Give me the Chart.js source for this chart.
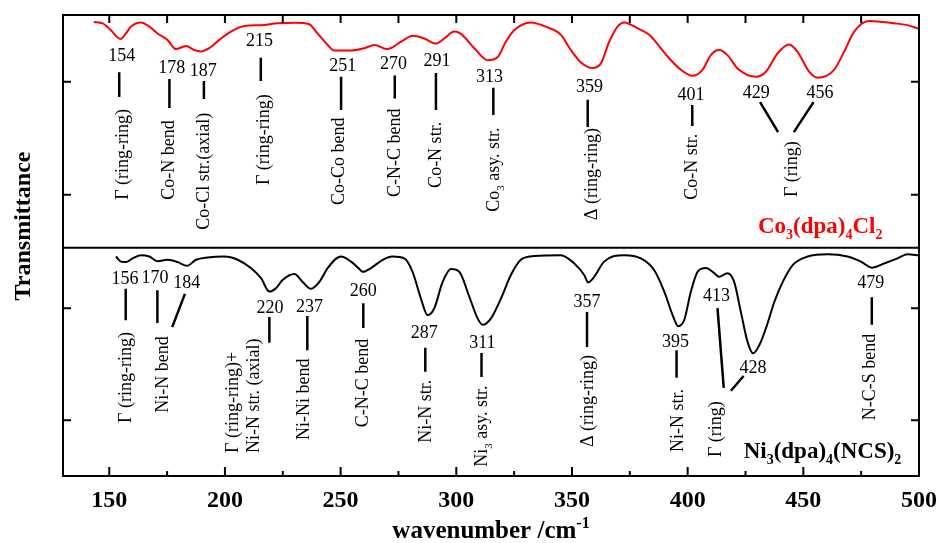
<!DOCTYPE html>
<html>
<head>
<meta charset="utf-8">
<script src="https://cdn.jsdelivr.net/npm/chart.js@4.4.1/dist/chart.umd.min.js"></script>
<style>
  html, body { margin: 0; padding: 0; background: #fff; }
  #wrap { width: 939px; height: 543px; }
</style>
</head>
<body>
<div id="wrap"><canvas id="irChart" width="939" height="543"></canvas></div>
<script>
// Far-IR spectra, transmittance in arbitrary units (panels stacked)
const coWavenumber = [143.3, 147.2, 150.7, 154.8, 157.2, 159.4, 163.7, 167.3, 170.9, 175.2, 178.8, 183.2, 186.7, 189.6, 193.2, 197.5, 202.6, 208.3, 215.6, 222.8, 230, 236.4, 240, 244.4, 247.2, 254.5, 260.2, 264.5, 270.3, 276.1, 281.1, 286.1, 291.2, 294.8, 299.1, 302, 307.8, 313.5, 317.9, 321.4, 325, 332.2, 339.5, 345.2, 349.5, 353.9, 358.9, 362.5, 366.1, 369.7, 372.6, 378.4, 383.4, 385.5, 391.3, 397.1, 402.1, 406.4, 410, 413.6, 417.2, 421.6, 429.5, 433.8, 438.9, 443.9, 447.5, 452.5, 456.1, 463.3, 467.6, 472, 478.4, 489.2, 495, 500];
const coTransmittance = [98.5, 98.2, 96.7, 94.8, 96.0, 97.5, 98.4, 97.5, 96.0, 94.6, 92.6, 93.3, 92.4, 92.1, 92.8, 94.6, 96.4, 97.6, 97.8, 98.2, 98.3, 98.0, 96.0, 93.5, 92.3, 92.3, 92.8, 93.5, 92.6, 94.2, 95.5, 94.9, 93.8, 94.9, 96.4, 95.9, 92.8, 90.2, 90.9, 94.2, 96.7, 98.4, 97.3, 95.7, 92.4, 89.7, 88.5, 89.5, 94.2, 97.5, 98.4, 97.1, 95.7, 94.6, 91.0, 88.1, 86.8, 88.1, 91.3, 92.4, 91.3, 88.4, 86.6, 87.7, 91.7, 93.6, 92.0, 87.7, 86.4, 88.1, 92.0, 96.4, 98.7, 98.2, 97.8, 97.0];

const niWavenumber = [152.9, 155.1, 157.2, 160.1, 163.7, 167.3, 170.9, 175.2, 179.6, 183.6, 187.5, 192.5, 199.7, 205.5, 211.2, 215.6, 219.2, 222, 224.9, 230, 233.6, 237.2, 240.8, 244.4, 250.1, 254.5, 258.1, 259.5, 263.1, 268.2, 272.5, 277.5, 281.1, 284.7, 287.6, 290.5, 294.1, 297.7, 301.3, 305.6, 309.2, 311.4, 315, 319.3, 323.6, 327.9, 333.7, 345.2, 351, 355.3, 357, 359.6, 363.9, 372.6, 379.8, 385.5, 389.9, 393.5, 395.9, 398.5, 401.4, 404.3, 407.9, 411.5, 413.6, 417.2, 420.1, 423, 425.9, 428.3, 431, 433.8, 437.5, 441.1, 445.5, 451.9, 460.6, 469.1, 474.9, 479.6, 484.9, 490.7, 495, 500];
const niTransmittance = [47.6, 46.5, 46.4, 47.2, 47.9, 47.6, 46.6, 46.9, 46.4, 45.6, 46.9, 47.4, 47.6, 46.9, 45.1, 42.9, 40.0, 40.7, 42.5, 43.8, 42.1, 40.6, 42.1, 45.1, 47.6, 46.5, 44.9, 44.3, 45.1, 46.9, 47.6, 47.2, 44.3, 38.5, 34.9, 36.4, 42.1, 44.9, 44.3, 38.9, 34.2, 32.8, 34.2, 38.5, 43.6, 46.9, 47.7, 47.9, 46.1, 43.6, 42.0, 43.2, 46.5, 47.9, 47.2, 44.7, 40.0, 34.9, 32.5, 33.8, 40.0, 44.3, 45.1, 44.0, 43.2, 44.0, 42.1, 35.6, 29.1, 26.6, 28.4, 32.0, 37.8, 42.1, 45.8, 47.6, 48.1, 47.6, 46.5, 45.2, 46.1, 47.2, 48.1, 47.8];

// axis ticks
const xMajor = [150, 200, 250, 300, 350, 400, 450, 500];
const xMinor = [175, 225, 275, 325, 375, 425, 475];
const yTicks = [12.1, 36.4, 61.0, 85.5];
const panelSplit = 49.5;

// peak assignments (wavenumbers and mode names)
const coPeaks = ['154', '178', '187', '215', '251', '270', '291', '313', '359', '401', '429', '456'];
const coModes = ['Γ (ring-ring)', 'Co-N bend', 'Co-Cl str.(axial)', 'Γ (ring-ring)', 'Co-Co bend', 'C-N-C bend', 'Co-N str.', 'Co_3 asy. str.', 'Δ (ring-ring)', 'Co-N str.', 'Γ (ring)'];
const niPeaks = ['156', '170', '184', '220', '237', '260', '287', '311', '357', '395', '413', '428', '479'];
const niModes = ['Γ (ring-ring)', 'Ni-N bend', 'Γ (ring-ring)+', 'Ni-N str. (axial)', 'Ni-Ni bend', 'C-N-C bend', 'Ni-N str.', 'Ni_3 asy. str.', 'Δ (ring-ring)', 'Ni-N str.', 'Γ (ring)', 'N-C-S bend'];

// where the annotations sit, in data units [wavenumber, transmittance]
const coNumPos = [[155.4, 91.0], [177.0, 88.4], [190.6, 87.9], [214.9, 94.4], [250.9, 88.8], [272.9, 89.4], [291.7, 90.0], [314.4, 86.6], [357.6, 84.3], [401.5, 82.6], [429.7, 83.1], [457.2, 83.1]];
const coLeaders = [[154.3, 87.6, 154.3, 82.2], [176.0, 86.1, 176.0, 79.8], [190.9, 85.7, 190.9, 81.8], [215.5, 90.7, 215.5, 85.7], [250.2, 86.6, 250.2, 79.4], [273.4, 86.9, 273.4, 81.9], [291.2, 87.4, 291.2, 79.4], [316.0, 84.2, 316.0, 78.3], [356.8, 81.6, 356.8, 75.7], [402.0, 80.5, 402.0, 75.9], [431.3, 81.1, 439.1, 74.6], [454.4, 81.1, 445.9, 74.6]];
const coModePos = [[155.4, 59.9], [175.5, 59.9], [190.6, 53.4], [216.6, 63.1], [249.0, 58.8], [272.9, 60.5], [290.9, 62.5], [316.0, 57.3], [358.4, 55.5], [401.5, 59.9], [444.6, 60.5]];
const niNumPos = [[156.8, 42.7], [169.8, 42.9], [183.5, 41.9], [219.5, 36.4], [236.5, 36.7], [259.8, 40.0], [286.2, 31.0], [311.3, 28.8], [356.5, 37.6], [394.8, 29.0], [412.5, 39.0], [428.2, 23.4], [479.1, 41.8]];
const niLeaders = [[157.1, 40.6, 157.1, 33.8], [170.8, 40.3, 170.8, 33.2], [182.7, 39.5, 177.2, 32.3], [219.2, 34.5, 219.2, 28.9], [235.6, 34.7, 235.6, 27.3], [259.8, 37.5, 259.8, 32.1], [286.6, 27.8, 286.6, 22.6], [310.9, 26.7, 310.9, 21.5], [356.5, 35.6, 356.5, 28.0], [395.2, 27.3, 395.2, 21.3], [412.9, 36.4, 415.6, 19.1], [424.2, 21.7, 418.7, 18.5], [479.6, 38.8, 479.6, 32.8]];
const niModePos = [[156.8, 11.5], [172.7, 13.7], [202.9, 5.0], [212.3, 5.0], [233.9, 7.8], [259.1, 10.6], [286.6, 7.2], [310.5, 2.0], [356.5, 6.3], [395.2, 5.2], [411.7, 4.1], [478.4, 12.1]];

const SERIF = '"Liberation Serif", "DejaVu Serif", serif';

// text with _3 subscripts and ^-1 superscripts
function richParts(str) {
  const parts = [];
  const re = /([_^])(-?\d+)|([^_^]+)/g;
  let m;
  while ((m = re.exec(str)) !== null) {
    if (m[3] !== undefined) parts.push({ t: m[3], k: 'n' });
    else parts.push({ t: m[2], k: m[1] === '_' ? 'sub' : 'sup' });
  }
  return parts;
}

function drawRich(ctx, str, x, y, size, weight, color, align) {
  const parts = richParts(str);
  const small = Math.round(size * 0.62);
  const fontOf = k => `${weight} ${k === 'n' ? size : small}px ${SERIF}`;
  let total = 0;
  parts.forEach(p => { ctx.font = fontOf(p.k); p.w = ctx.measureText(p.t).width; total += p.w; });
  let cx = align === 'center' ? x - total / 2 : x;
  ctx.fillStyle = color;
  ctx.textAlign = 'left';
  ctx.textBaseline = 'alphabetic';
  parts.forEach(p => {
    ctx.font = fontOf(p.k);
    let dy = 0;
    if (p.k === 'sub') dy = size * 0.28;
    if (p.k === 'sup') dy = -size * 0.42;
    ctx.fillText(p.t, cx, y + dy);
    cx += p.w;
  });
}

const decorPlugin = {
  id: 'decor',
  afterDraw(chart) {
    const ctx = chart.ctx;
    const xs = chart.scales.x, ys = chart.scales.y;
    const ca = chart.chartArea;
    const X = v => xs.getPixelForValue(v);
    const Y = v => ys.getPixelForValue(v);
    ctx.save();

    // frame, panel divider and inward ticks
    ctx.strokeStyle = '#000';
    ctx.lineWidth = 2;
    ctx.strokeRect(ca.left, ca.top, ca.right - ca.left, ca.bottom - ca.top);
    ctx.beginPath();
    ctx.moveTo(ca.left, Y(panelSplit));
    ctx.lineTo(ca.right, Y(panelSplit));
    ctx.stroke();
    ctx.beginPath();
    xMajor.concat(xMinor).forEach(v => {
      const px = X(v);
      const len = xMajor.includes(v) ? 9 : 5;
      ctx.moveTo(px, ca.bottom); ctx.lineTo(px, ca.bottom - len);
      ctx.moveTo(px, ca.top); ctx.lineTo(px, ca.top + 8);
    });
    yTicks.forEach(v => {
      ctx.moveTo(ca.left, Y(v)); ctx.lineTo(ca.left + 8, Y(v));
      ctx.moveTo(ca.right, Y(v)); ctx.lineTo(ca.right - 8, Y(v));
    });
    ctx.stroke();

    // peak numbers
    ctx.fillStyle = '#000';
    ctx.font = `18px ${SERIF}`;
    ctx.textAlign = 'center';
    ctx.textBaseline = 'middle';
    coPeaks.forEach((t, i) => ctx.fillText(t, X(coNumPos[i][0]), Y(coNumPos[i][1])));
    niPeaks.forEach((t, i) => ctx.fillText(t, X(niNumPos[i][0]), Y(niNumPos[i][1])));

    // leader lines
    ctx.lineWidth = 2.5;
    ctx.beginPath();
    coLeaders.concat(niLeaders).forEach(l => {
      ctx.moveTo(X(l[0]), Y(l[1]));
      ctx.lineTo(X(l[2]), Y(l[3]));
    });
    ctx.stroke();

    // rotated mode labels, read bottom to top
    const vertical = (str, pos) => {
      ctx.save();
      ctx.translate(X(pos[0]) + 6, Y(pos[1]));
      ctx.rotate(-Math.PI / 2);
      drawRich(ctx, str, 0, 0, 18, 'normal', '#000', 'left');
      ctx.restore();
    };
    coModes.forEach((s, i) => vertical(s, coModePos[i]));
    niModes.forEach((s, i) => vertical(s, niModePos[i]));

    // compound names
    drawRich(ctx, 'Co_3(dpa)_4Cl_2', X(430.4), Y(52.7), 23, 'bold', '#ff0000', 'left');
    drawRich(ctx, 'Ni_3(dpa)_4(NCS)_2', X(424.2), Y(3.9), 23, 'bold', '#000', 'left');

    // axis titles
    drawRich(ctx, 'wavenumber /cm^-1', (ca.left + ca.right) / 2, 538, 25, 'bold', '#000', 'center');
    ctx.save();
    ctx.translate(30, 226);
    ctx.rotate(-Math.PI / 2);
    drawRich(ctx, 'Transmittance', 0, 0, 24, 'bold', '#000', 'center');
    ctx.restore();

    ctx.restore();
  }
};

const ctx = document.getElementById('irChart').getContext('2d');
const irChart = new Chart(ctx, {
  type: 'line',
  data: {
    datasets: [
      {
        label: 'Co3(dpa)4Cl2',
        data: coWavenumber.map((x, i) => ({ x: x, y: coTransmittance[i] })),
        borderColor: '#ff0000',
        borderWidth: 2,
        pointRadius: 0,
        fill: false,
        cubicInterpolationMode: 'monotone'
      },
      {
        label: 'Ni3(dpa)4(NCS)2',
        data: niWavenumber.map((x, i) => ({ x: x, y: niTransmittance[i] })),
        borderColor: '#000000',
        borderWidth: 2,
        pointRadius: 0,
        fill: false,
        cubicInterpolationMode: 'monotone'
      }
    ]
  },
  options: {
    responsive: false,
    animation: false,
    layout: { padding: { top: 15, right: 20, left: 0, bottom: 0 } },
    plugins: {
      legend: { display: false },
      tooltip: { enabled: false }
    },
    scales: {
      x: {
        type: 'linear',
        min: 130,
        max: 500,
        afterBuildTicks: s => { s.ticks = xMajor.map(v => ({ value: v })); },
        afterFit: s => { s.height = 67; s.paddingLeft = 0; s.paddingRight = 0; },
        grid: { display: false, drawTicks: false },
        border: { display: false },
        ticks: {
          color: '#000',
          padding: 10,
          maxRotation: 0,
          autoSkip: false,
          font: { family: SERIF, size: 24, weight: 'bold' }
        }
      },
      y: {
        type: 'linear',
        min: 0,
        max: 100,
        afterFit: s => { s.width = 63; s.paddingTop = 0; s.paddingBottom = 0; },
        grid: { display: false, drawTicks: false },
        border: { display: false },
        ticks: { display: false }
      }
    }
  },
  plugins: [decorPlugin]
});
</script>
</body>
</html>
